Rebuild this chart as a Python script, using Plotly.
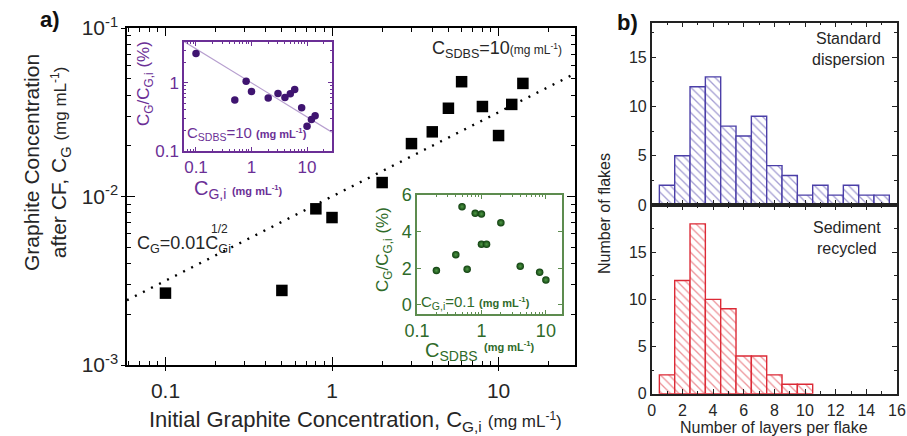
import plotly.graph_objects as go

W, H = 907, 436
FONT = "Arial, Liberation Sans, sans-serif"
INK = "#262626"
PURPLE = "#6b2f96"
PURPLE_PT = "#3f1470"
PURPLE_LINE = "#b79fcf"
GREEN = "#2f6b2a"
GREEN_FRAME = "#5d8c4f"
BLUE = "#4b3fa8"
RED = "#dc2a36"

# ---- panel a: concentration after centrifugation vs initial concentration
c_gi = [0.1, 0.5, 0.8, 1, 2, 3, 4, 5, 6, 8, 10, 12, 14]
c_g = [2.67e-3, 2.77e-3, 8.45e-3, 7.5e-3, 1.21e-2, 2.06e-2, 2.42e-2,
       3.34e-2, 4.8e-2, 3.42e-2, 2.3e-2, 3.52e-2, 4.69e-2]
fit_coef = 0.01        # C_G = 0.01 * C_Gi^(1/2)
fit_exp = 0.5

# upper inset: yield (%) vs initial graphite concentration, C_SDBS = 10
yield_gi = [2.7, 0.56, 1.06, 0.75, 0.6, 0.7, 0.61, 0.69, 0.8, 0.43, 0.23, 0.29, 0.33]

# lower inset: yield (%) vs surfactant concentration, C_Gi = 0.1
c_sdbs = [0.2, 0.4, 0.5, 0.6, 0.8, 1.0, 1.0, 1.2, 2.0, 4.0, 8.0, 10.0]
yield_sdbs = [1.87, 2.74, 5.36, 1.95, 5.0, 4.96, 3.31, 3.31, 4.49, 2.11, 1.78, 1.36]

# ---- panel b: flake thickness histograms
layers_std = list(range(1, 16))
counts_std = [2, 5, 12, 13, 8, 7, 9, 4, 3, 1, 2, 1, 2, 1, 1]
layers_sed = list(range(1, 11))
counts_sed = [2, 12, 18, 10, 9, 4, 4, 2, 1, 1]


def fx(px):
    return px / W


def fy(py):
    return 1 - py / H


main_xr = [0.0587, 28.8]
main_xlog = [-1.231, 1.459]
ins1_xr = [0.061, 28.0]

fig = go.Figure()

# main scatter + power-law guide
fig.add_trace(go.Scatter(
    x=main_xr, y=[fit_coef * v ** fit_exp for v in main_xr], mode="lines",
    line=dict(color="black", width=2.4, dash="2px,7px"),
    xaxis="x", yaxis="y", showlegend=False, hoverinfo="skip"))
fig.add_trace(go.Scatter(
    x=c_gi, y=c_g, mode="markers",
    marker=dict(symbol="square", size=11.5, color="black"),
    xaxis="x", yaxis="y", showlegend=False))
# empty trace that carries the outward half of the main major ticks
fig.add_trace(go.Scatter(x=[], y=[], xaxis="x6", yaxis="y6",
                         showlegend=False, hoverinfo="skip"))

# upper inset
fig.add_trace(go.Scatter(
    x=ins1_xr, y=[100 * fit_coef * v ** (fit_exp - 1) for v in ins1_xr],
    mode="lines", line=dict(color=PURPLE_LINE, width=1.2),
    xaxis="x2", yaxis="y2", showlegend=False, hoverinfo="skip"))
fig.add_trace(go.Scatter(
    x=c_gi, y=yield_gi, mode="markers",
    marker=dict(size=7.5, color=PURPLE_PT),
    xaxis="x2", yaxis="y2", showlegend=False))

# lower inset
fig.add_trace(go.Scatter(
    x=c_sdbs, y=yield_sdbs, mode="markers",
    marker=dict(size=7.5, color="#0e3d0e",
                gradient=dict(type="radial", color="#4f9a45")),
    xaxis="x3", yaxis="y3", showlegend=False))

# histograms
fig.add_trace(go.Bar(
    x=layers_std, y=counts_std, width=1,
    marker=dict(color="white", line=dict(color=BLUE, width=1.4),
                pattern=dict(shape="\\", fgcolor=BLUE, bgcolor="white",
                             size=6, solidity=0.22)),
    xaxis="x4", yaxis="y4", showlegend=False))
fig.add_trace(go.Bar(
    x=layers_sed, y=counts_sed, width=1,
    marker=dict(color="white", line=dict(color=RED, width=1.4),
                pattern=dict(shape="\\", fgcolor=RED, bgcolor="white",
                             size=6, solidity=0.22)),
    xaxis="x5", yaxis="y5", showlegend=False))


def frame(color, **kw):
    d = dict(showline=True, linecolor=color, linewidth=1.5, mirror="allticks",
             ticks="inside", tickcolor=color, showgrid=False, zeroline=False,
             automargin=False)
    d.update(kw)
    return d


def log_minor(decades, lo, hi):
    vals = []
    for d in decades:
        for m in range(2, 10):
            v = m * d
            if lo <= v <= hi:
                vals.append(v)
    return vals


main_tick_font = dict(family=FONT, size=21, color=INK)
hist_tick_font = dict(family=FONT, size=16, color=INK)
main_xdom = [fx(127), fx(575)]
main_ydom = [fy(365), fy(28)]

layout = dict(
    width=W, height=H, margin=dict(l=0, r=0, t=0, b=0, autoexpand=False),
    paper_bgcolor="white", plot_bgcolor="white",
    font=dict(family=FONT, color=INK), barmode="overlay",
    xaxis=frame("black", domain=main_xdom, type="log",
                range=main_xlog, anchor="y",
                tickmode="array", tickvals=[0.1, 1, 10], ticktext=["0.1", "1", "10"],
                ticklen=8, tickwidth=1.3, tickfont=main_tick_font,
                ticklabelstandoff=6,
                minor=dict(tickmode="array", ticks="inside", ticklen=4,
                           tickcolor="black",
                           tickvals=log_minor([0.01, 0.1, 1, 10], 0.0587, 28.8))),
    yaxis=frame("black", domain=main_ydom, type="log",
                range=[-3, -1], anchor="x",
                tickmode="array", tickvals=[1e-3, 1e-2, 1e-1],
                ticktext=["10<sup>-3</sup>", "10<sup>-2</sup>", "10<sup>-1</sup>"],
                ticklen=8, tickwidth=1.3, tickfont=main_tick_font,
                ticklabelstandoff=3,
                minor=dict(tickmode="array", ticks="inside", ticklen=4,
                           tickcolor="black",
                           tickvals=log_minor([1e-3, 1e-2], 1e-3, 1e-1))),
    # outward stubs of the main major ticks
    xaxis6=dict(overlaying="x", anchor="y6", domain=main_xdom, type="log",
                range=main_xlog, tickmode="array", tickvals=[0.1, 1, 10],
                ticks="outside", ticklen=5, tickwidth=1.3, tickcolor="black",
                showticklabels=False, showline=False, showgrid=False,
                zeroline=False, automargin=False),
    yaxis6=dict(overlaying="y", anchor="x6", domain=main_ydom, type="log",
                range=[-3, -1], tickmode="array", tickvals=[1e-3, 1e-2, 1e-1],
                ticks="outside", ticklen=5, tickwidth=1.3, tickcolor="black",
                showticklabels=False, showline=False, showgrid=False,
                zeroline=False, automargin=False),
    xaxis2=frame(PURPLE, domain=[fx(184), fx(332)], type="log",
                 range=[-1.216, 1.45], anchor="y2",
                 tickmode="array", tickvals=[0.1, 1, 10], ticktext=["0.1", "1", "10"],
                 ticklen=4, tickfont=dict(family=FONT, size=17, color=PURPLE),
                 minor=dict(tickmode="array", ticks="inside", ticklen=2,
                            tickcolor=PURPLE,
                            tickvals=log_minor([0.01, 0.1, 1, 10], 0.061, 28))),
    yaxis2=frame(PURPLE, domain=[fy(151), fy(42)], type="log",
                 range=[-1, 0.6], anchor="x2",
                 tickmode="array", tickvals=[0.1, 1], ticktext=["0.1", "1"],
                 ticklen=4, tickfont=dict(family=FONT, size=17, color=PURPLE),
                 minor=dict(tickmode="array", ticks="inside", ticklen=2,
                            tickcolor=PURPLE,
                            tickvals=log_minor([0.1, 1], 0.1, 4))),
    xaxis3=frame(GREEN_FRAME, domain=[fx(417), fx(562)], type="log",
                 range=[-1.0, 1.25], anchor="y3",
                 tickmode="array", tickvals=[0.1, 1, 10], ticktext=["0.1", "1", "10"],
                 ticklen=4, tickfont=dict(family=FONT, size=18, color=GREEN),
                 minor=dict(tickmode="array", ticks="inside", ticklen=2,
                            tickcolor=GREEN_FRAME,
                            tickvals=log_minor([0.1, 1, 10], 0.1, 17.7))),
    yaxis3=frame(GREEN_FRAME, domain=[fy(314), fy(195)],
                 range=[-0.5, 6], anchor="x3",
                 tickmode="array", tickvals=[0, 2, 4, 6],
                 ticklen=4, tickfont=dict(family=FONT, size=18, color=GREEN)),
    xaxis4=frame("#222", domain=[fx(651.7), fx(897)], range=[0, 16], anchor="y4",
                 tickmode="array", tickvals=list(range(0, 17, 2)), showticklabels=False,
                 ticklen=5, minor=dict(tickmode="array", ticks="inside", ticklen=3,
                                       tickcolor="#222", tickvals=list(range(1, 16, 2)))),
    yaxis4=frame("#222", domain=[fy(205), fy(22.7)], range=[0, 18.5], anchor="x4",
                 tickmode="array", tickvals=[0, 5, 10, 15], ticklen=5,
                 tickfont=hist_tick_font,
                 minor=dict(tickmode="array", ticks="inside", ticklen=3,
                            tickcolor="#222", tickvals=[2.5, 7.5, 12.5, 17.5])),
    xaxis5=frame("#222", domain=[fx(651.7), fx(897)], range=[0, 16], anchor="y5",
                 tickmode="array", tickvals=list(range(0, 17, 2)), ticklen=5,
                 tickfont=hist_tick_font, ticklabelstandoff=1,
                 minor=dict(tickmode="array", ticks="inside", ticklen=3,
                            tickcolor="#222", tickvals=list(range(1, 16, 2)))),
    yaxis5=frame("#222", domain=[fy(393.7), fy(205)], range=[0, 20], anchor="x5",
                 tickmode="array", tickvals=[0, 5, 10, 15], ticklen=5,
                 tickfont=hist_tick_font,
                 minor=dict(tickmode="array", ticks="inside", ticklen=3,
                            tickcolor="#222", tickvals=[2.5, 7.5, 12.5, 17.5])),
)
fig.update_layout(**layout)


def note(text, x, y, size, color=INK, angle=0, xanchor="center", yanchor="middle",
         align="center"):
    fig.add_annotation(text=text, x=fx(x), y=fy(y), xref="paper", yref="paper",
                       showarrow=False, textangle=angle, xanchor=xanchor,
                       yanchor=yanchor, align=align,
                       font=dict(family=FONT, size=size, color=color))


unit = "(mg mL<sup>-1</sup>)"

# panel labels
note("<b>a)</b>", 50, 19, 22, "#111")
note("<b>b)</b>", 627, 22, 22, "#111")

# main axis titles
note("Graphite Concentration<br>after CF, C<sub>G</sub> "
     "<span style='font-size:17px'>" + unit + "</span>",
     47, 163, 21, angle=-90)
note("Initial Graphite Concentration, C<sub>G,i</sub> "
     "<span style='font-size:17px'>" + unit + "</span>",
     355, 421, 22)

# main annotations
note("C<sub>SDBS</sub>=10<span style='font-size:12px'>" + unit + "</span>",
     497, 50, 18)
note("C<sub>G</sub>=0.01C<sub>Gi</sub>", 135, 244, 18, xanchor="left")
note("1/2", 209, 229, 12, xanchor="left")

# upper inset labels
note("C<sub>G</sub>/C<sub>G,i</sub> (%)", 145, 84, 17, PURPLE, angle=-90)
note("C<sub>G,i</sub> <b><span style='font-size:11px'>" + unit + "</span></b>",
     238, 189, 20, PURPLE)
note("C<sub>SDBS</sub>=10 <b><span style='font-size:11px'>" + unit + "</span></b>",
     247, 133, 15, PURPLE)

# lower inset labels
note("C<sub>G</sub>/C<sub>G,i</sub> (%)", 384, 250, 17, GREEN, angle=-90)
note("C<sub>SDBS</sub>", 451, 351, 20, GREEN)
note("<b>" + unit + "</b>", 509, 346, 11, GREEN)
note("C<sub>G,i</sub>=0.1 <b><span style='font-size:11px'>" + unit + "</span></b>",
     475, 302, 15, GREEN)

# histogram labels
note("Standard<br>dispersion", 848, 49, 16)
note("Sediment<br>recycled", 847, 238, 16)
note("Number of flakes", 604, 214, 16, angle=-90)
note("Number of layers per flake", 774, 427, 16)

fig.write_html("out.html", config={"displayModeBar": False})
